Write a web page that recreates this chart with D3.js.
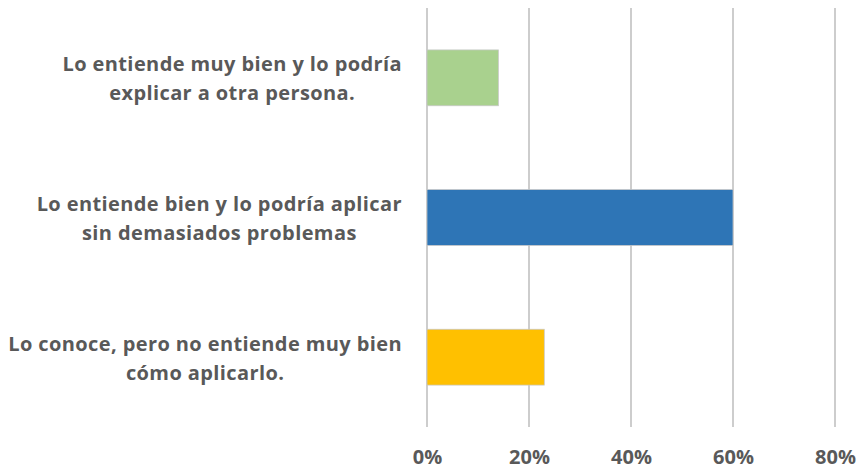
<!DOCTYPE html>
<html><head><meta charset="utf-8">
<script src="https://cdn.jsdelivr.net/npm/d3@7"></script>
<style>body{margin:0;background:#fff;}svg{display:block;}</style>
</head><body>
<svg id="chart" width="857" height="470"></svg>
<script>
const categories = [
  ["Lo entiende muy bien y lo podría", "explicar a otra persona."],
  ["Lo entiende bien y lo podría aplicar", "sin demasiados problemas"],
  ["Lo conoce, pero no entiende muy bien", "cómo aplicarlo."]
];
const values = [0.14, 0.60, 0.23];
const colors = ["#a9d18e", "#2e75b6", "#ffc000"];
const tickValues = [0, 0.2, 0.4, 0.6, 0.8];

(function(){
const svg = d3.select("#chart");
const font = "'Open Sans', sans-serif";
const textColor = "#595959";
const plotLeft = 427, plotRight = 835, plotTop = 8, plotBottom = 427;

const x = d3.scaleLinear().domain([0, 0.8]).range([plotLeft, plotRight]);
const y = d3.scaleBand().domain(d3.range(categories.length)).range([plotTop, plotBottom])
  .paddingInner(0.6).paddingOuter(0.3);

// gridlines
svg.append("g").selectAll("line").data(tickValues).join("line")
  .attr("x1", d => x(d)).attr("x2", d => x(d))
  .attr("y1", plotTop).attr("y2", plotBottom)
  .attr("stroke", "#bcbcbc").attr("stroke-width", 1.5);

// bars
svg.append("g").selectAll("rect").data(values).join("rect")
  .attr("x", x(0)).attr("y", (d, i) => y(i))
  .attr("width", d => x(d) - x(0)).attr("height", y.bandwidth())
  .attr("fill", (d, i) => colors[i])
  .attr("stroke", "#c8c8c8").attr("stroke-width", 0.75);

// x axis tick labels
const xAxis = d3.axisBottom(x).tickValues(tickValues).tickFormat(d3.format(".0%")).tickSize(0).tickPadding(0);
const gx = svg.append("g").attr("transform", `translate(0,${plotBottom})`).call(xAxis);
gx.select(".domain").remove();
gx.selectAll("text").attr("y", 36.5).attr("dy", null)
  .attr("font-family", font).attr("font-weight", "bold").attr("font-size", 20)
  .attr("fill", textColor);

// category labels: each block centered, right-aligned at labelRight
const labelRight = 402;
const g = svg.append("g");
categories.forEach((lines, i) => {
  const cy = y(i) + y.bandwidth() / 2;
  const t = g.append("text")
    .attr("font-family", font).attr("font-weight", "bold").attr("font-size", 20)
    .attr("letter-spacing", 0.4)
    .attr("fill", textColor).attr("text-anchor", "middle");
  lines.forEach((ln, j) => {
    t.append("tspan").attr("x", 0).attr("y", cy - 6.5 + j * 29).text(ln);
  });
  let maxW = 0;
  t.selectAll("tspan").each(function(){ maxW = Math.max(maxW, this.getComputedTextLength()); });
  t.selectAll("tspan").attr("x", labelRight - maxW / 2);
});
})();
</script>
</body></html>
